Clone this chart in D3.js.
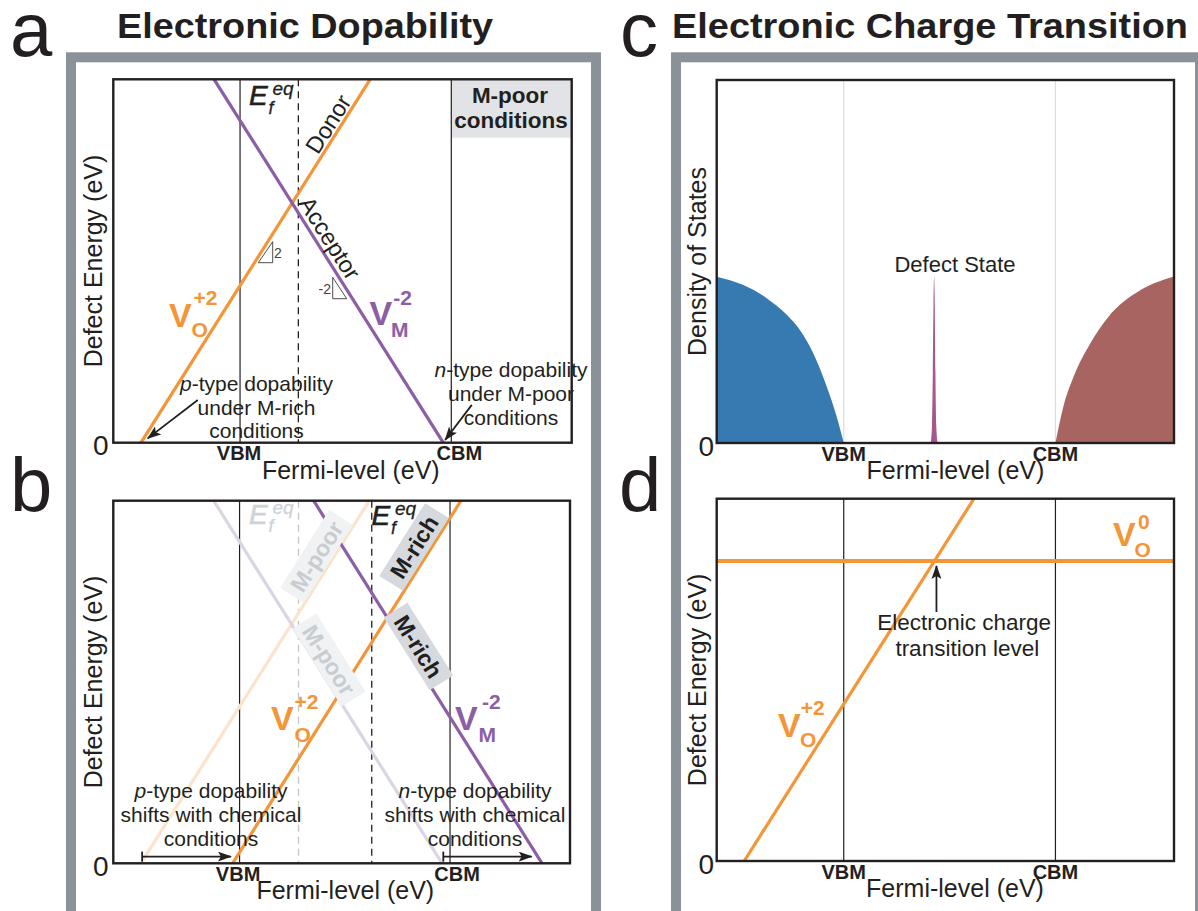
<!DOCTYPE html>
<html>
<head>
<meta charset="utf-8">
<script src="https://cdn.jsdelivr.net/npm/d3@7"></script>
<style>
  body { margin: 0; background: #fff; }
  svg { display: block; }
  text { font-family: "Liberation Sans", Arial, Helvetica, sans-serif; fill: #231f20; }
</style>
</head>
<body>
<svg id="fig" width="1198" height="911"></svg>
<script>
// ---------- data ----------
// Fermi-level axis: band edges (VBM = 0, CBM = 1 in units of the gap)
const bandEdgeLabels = ["VBM", "CBM"];
const bandEdgeValues = [0, 1];
const fermiDomainAB = [-0.6, 1.57];
const fermiDomainCD = [-0.6, 1.56];
const energyDomain = [0, 2.17];
const dosDomain = [0, 1];
const zeroTick = ["0"];

// (a) formation energy vs Fermi level, slopes +2 / -2
const donorA = [[-0.469, 0], [0.616, 2.17]];      // V_O^{+2}
const acceptorA = [[-0.123, 2.17], [0.962, 0]];   // V_M^{-2}
const efEqA = 0.276;

// (b) M-poor (faded) and M-rich (solid) conditions
const donorPoor = [[-0.469, 0], [0.616, 2.17]];
const acceptorPoor = [[-0.123, 2.17], [0.962, 0]];
const donorRich = [[-0.033, 0], [1.052, 2.17]];
const acceptorRich = [[0.352, 2.17], [1.437, 0]];
const efEqPoor = 0.28;
const efEqRich = 0.628;
const pShift = [[-0.463, 0.04], [-0.041, 0.04]];
const nShift = [[0.968, 0.04], [1.388, 0.04]];

// (c) density of states
const valenceDos = [[-0.6, 0.458], [-0.474, 0.435], [-0.364, 0.399], [-0.269, 0.353], [-0.207, 0.311],
                    [-0.144, 0.247], [-0.08, 0.155], [-0.033, 0.072], [0, 0]];
const conductionDos = [[1.0, 0], [1.038, 0.101], [1.086, 0.183], [1.165, 0.275], [1.245, 0.344],
                       [1.404, 0.422], [1.56, 0.459]];
const defectDos = [[0.411, 0], [0.417, 0.05], [0.421, 0.2], [0.424, 0.38], [0.427, 0.458],
                   [0.43, 0.38], [0.433, 0.2], [0.437, 0.05], [0.443, 0]];

// (d) charge transition
const voPlus2 = [[-0.47, 0], [0.615, 2.17]];
const voNeutral = [[-0.6, 1.797], [1.56, 1.797]];
const transitionLevel = [0.4285, 1.797];

// ---------- style ----------
const INK = "#231f20";
const ORANGE = "#f39639";
const PURPLE = "#8c5ea6";
const ORANGE_FADED = "#fbe3cc";
const PURPLE_FADED = "#dbd4e2";
const FRAME = "#8a9198";
const FONT_AX = 25;

const svg = d3.select("#fig");
const defs = svg.append("defs");
defs.append("marker").attr("id", "head")
  .attr("markerUnits", "userSpaceOnUse")
  .attr("viewBox", "0 0 14 10").attr("markerWidth", 14).attr("markerHeight", 10)
  .attr("refX", 13).attr("refY", 5).attr("orient", "auto")
  .append("path").attr("d", "M0,0 L14,5 L0,10 L3,5 Z").attr("fill", INK);

// outer grey frames
svg.append("rect").attr("x", 71).attr("y", 57.3).attr("width", 525).attr("height", 860)
  .attr("fill", "none").attr("stroke", FRAME).attr("stroke-width", 10);
svg.append("rect").attr("x", 676).attr("y", 57.3).attr("width", 524).attr("height", 860)
  .attr("fill", "none").attr("stroke", FRAME).attr("stroke-width", 10);

// helpers
function text(g, x, y, s, o = {}) {
  const t = g.append("text").attr("x", x).attr("y", y).text(s)
    .attr("font-size", o.size || 21)
    .attr("text-anchor", o.anchor || "start");
  if (o.weight) t.attr("font-weight", o.weight);
  if (o.style) t.attr("font-style", o.style);
  if (o.fill) t.style("fill", o.fill);
  if (o.len) t.attr("textLength", o.len).attr("lengthAdjust", "spacingAndGlyphs");
  return t;
}

function setupPanel(id, box, xd, yd) {
  const g = svg.append("g").attr("id", "panel-" + id);
  const x = d3.scaleLinear().domain(xd).range([box.x0, box.x1]);
  const y = d3.scaleLinear().domain(yd).range([box.y1, box.y0]);
  defs.append("clipPath").attr("id", "clip-" + id).append("rect")
    .attr("x", box.x0).attr("y", box.y0).attr("width", box.x1 - box.x0).attr("height", box.y1 - box.y0);
  const inner = g.append("g").attr("clip-path", `url(#clip-${id})`);
  return { g, inner, x, y, box };
}

function bandLines(P, color) {
  P.inner.selectAll(".edge").data(bandEdgeValues).join("line")
    .attr("x1", d => P.x(d)).attr("x2", d => P.x(d))
    .attr("y1", P.box.y0).attr("y2", P.box.y1)
    .attr("stroke", color).attr("stroke-width", 1.2);
}

function dashed(P, v, color) {
  P.inner.append("line").attr("x1", P.x(v)).attr("x2", P.x(v))
    .attr("y1", P.box.y0).attr("y2", P.box.y1)
    .attr("stroke", color).attr("stroke-width", 1.3).attr("stroke-dasharray", "7,5");
}

function curve(P, pts, color, w) {
  const line = d3.line().x(d => P.x(d[0])).y(d => P.y(d[1]));
  P.inner.append("path").attr("d", line(pts)).attr("fill", "none")
    .attr("stroke", color).attr("stroke-width", w || 3.2);
}

function angleOf(P, pts) {
  const dx = P.x(pts[1][0]) - P.x(pts[0][0]);
  const dy = P.y(pts[1][1]) - P.y(pts[0][1]);
  let a = Math.atan2(dy, dx) * 180 / Math.PI;
  if (a > 90) a -= 180;
  if (a < -90) a += 180;
  return a;
}

function frameBox(P) {
  P.g.append("rect").attr("x", P.box.x0).attr("y", P.box.y0)
    .attr("width", P.box.x1 - P.box.x0).attr("height", P.box.y1 - P.box.y0)
    .attr("fill", "none").attr("stroke", INK).attr("stroke-width", 2.4);
}

function axisText(P, opt) {
  // band-edge tick labels
  P.g.selectAll(".edgeLabel").data(bandEdgeLabels).join("text")
    .attr("x", (d, i) => P.x(bandEdgeValues[i]) + (i === 1 ? opt.cbmShift : 0) + (i === 0 ? opt.vbmShift : 0))
    .attr("y", P.box.y1 + 17.5)
    .attr("text-anchor", "middle").attr("font-weight", "bold").attr("font-size", 20)
    .text(d => d);
  text(P.g, opt.zeroX, P.box.y1 + 12.5, zeroTick[0], { size: 28, anchor: "end" });
  text(P.g, opt.xLabelX, P.box.y1 + 36, "Fermi-level (eV)", { size: FONT_AX, anchor: "middle" });
  P.g.append("text").attr("transform", `translate(${opt.yLabelX},${(P.box.y0 + P.box.y1) / 2}) rotate(-90)`)
    .attr("text-anchor", "middle").attr("font-size", FONT_AX).text(opt.yLabel);
}

function vLabel(g, v, sup, sub, color) {
  // v, sup, sub: [x, baseline(, text)]
  text(g, v[0], v[1], "V", { size: 34, weight: "bold", fill: color });
  text(g, sup[0], sup[1], sup[2], { size: 21, weight: "bold", fill: color });
  text(g, sub[0], sub[1], sub[2], { size: 21, weight: "bold", fill: color });
}

function efLabel(g, x, y, color) {
  const o = { style: "italic", fill: color };
  text(g, x, y, "E", Object.assign({ size: 28 }, o)).attr("stroke", color).attr("stroke-width", 0.6);
  text(g, x + 19.5, y + 8.5, "f", Object.assign({ size: 18 }, o)).attr("stroke", color).attr("stroke-width", 0.3);
  text(g, x + 23.5, y - 10, "eq", Object.assign({ size: 19 }, o)).attr("stroke", color).attr("stroke-width", 0.3);
}

function tag(g, cx, cy, angle, label, o) {
  const t = g.append("g").attr("transform", `translate(${cx},${cy}) rotate(${angle})`);
  if (o.box) t.append("rect").attr("x", -o.w / 2).attr("y", -o.h / 2).attr("width", o.w).attr("height", o.h).attr("fill", o.box);
  t.append("text").attr("text-anchor", "middle").attr("dy", "0.36em")
    .attr("font-size", o.size || 23).attr("font-weight", o.weight || "normal")
    .style("fill", o.color || INK).text(label);
}

function multiline(g, cx, y0, lines, o = {}) {
  lines.forEach((ln, i) => {
    const t = g.append("text").attr("x", cx).attr("y", y0 + i * (o.gap || 23.5))
      .attr("text-anchor", "middle").attr("font-size", o.size || 21);
    if (Array.isArray(ln)) {
      t.append("tspan").attr("font-style", "italic").text(ln[0]);
      t.append("tspan").text(ln[1]);
    } else t.text(ln);
  });
}

function arrow(P, pts, bar) {
  P.g.append("line")
    .attr("x1", P.x(pts[0][0])).attr("y1", P.y(pts[0][1]))
    .attr("x2", P.x(pts[1][0])).attr("y2", P.y(pts[1][1]))
    .attr("stroke", INK).attr("stroke-width", 1.8).attr("marker-end", "url(#head)");
  if (bar) {
    P.g.append("line").attr("x1", P.x(pts[0][0])).attr("x2", P.x(pts[0][0]))
      .attr("y1", P.y(pts[0][1]) - 5).attr("y2", P.y(pts[0][1]) + 5)
      .attr("stroke", INK).attr("stroke-width", 1.8);
  }
}

// ---------- titles and panel letters ----------
text(svg, 10, 56, "a", { size: 76 });
text(svg, 10, 511, "b", { size: 76 });
text(svg, 620, 56, "c", { size: 76 });
text(svg, 619, 511, "d", { size: 76 });
text(svg, 117, 37.5, "Electronic Dopability", { size: 35, weight: "bold", len: 376 });
text(svg, 672, 37.5, "Electronic Charge Transition", { size: 35, weight: "bold", len: 516 });

// ---------- (a) ----------
{
  const P = setupPanel("a", { x0: 113.3, x1: 571.7, y0: 79.3, y1: 442.7 }, fermiDomainAB, energyDomain);
  P.inner.append("rect").attr("x", P.x(bandEdgeValues[1])).attr("y", P.box.y0)
    .attr("width", P.box.x1 - P.x(bandEdgeValues[1])).attr("height", 58.4).attr("fill", "#e1e3e7");
  bandLines(P, INK);
  dashed(P, efEqA, INK);
  curve(P, donorA, ORANGE);
  curve(P, acceptorA, PURPLE);
  frameBox(P);
  axisText(P, { cbmShift: 8, vbmShift: -1, zeroX: 108.5, xLabelX: 350.8, yLabelX: 101.5, yLabel: "Defect Energy (eV)" });

  text(P.g, 510, 103.3, "M-poor", { size: 22.5, weight: "bold", anchor: "middle" });
  text(P.g, 511, 128.3, "conditions", { size: 22.5, weight: "bold", anchor: "middle" });
  efLabel(P.g, 249, 105, INK);

  const aO = angleOf(P, donorA), aM = angleOf(P, acceptorA);
  tag(P.g, 328, 124, aO, "Donor", { size: 23.5 });
  tag(P.g, 330, 238, aM, "Acceptor", { size: 23.5 });

  // slope triangles
  P.g.append("path").attr("d", "M258.3,262.7 L272.7,241.7 L272.7,262.7 Z")
    .attr("fill", "none").attr("stroke", INK).attr("stroke-width", 0.8);
  text(P.g, 274, 258, "2", { size: 14, fill: "#444" });
  P.g.append("path").attr("d", "M332.7,277.3 L346.7,298.7 L332.7,298.7 Z")
    .attr("fill", "none").attr("stroke", INK).attr("stroke-width", 0.8);
  text(P.g, 331, 293.5, "-2", { size: 14, fill: "#444", anchor: "end" });

  vLabel(P.g, [169, 326.5], [193.6, 304.7, "+2"], [191.5, 336.5, "O"], ORANGE);
  vLabel(P.g, [369.5, 325], [393.3, 305, "-2"], [391, 336.7, "M"], PURPLE);

  multiline(P.g, 256.5, 391, [["p", "-type dopability"], "under M-rich", "conditions"]);
  multiline(P.g, 511, 376.6, [["n", "-type dopability"], "under M-poor", "conditions"], { gap: 24.2 });
  arrow(P, [[-0.2, 0.255], [-0.437, 0.026]]);
  arrow(P, [[1.097, 0.226], [0.971, 0.016]]);
}

// ---------- (b) ----------
{
  const P = setupPanel("b", { x0: 113.3, x1: 570, y0: 500.7, y1: 863.3 }, fermiDomainAB, energyDomain);
  bandLines(P, INK);
  dashed(P, efEqPoor, "#c4c4c4");
  dashed(P, efEqRich, INK);
  curve(P, donorPoor, ORANGE_FADED);
  curve(P, acceptorPoor, PURPLE_FADED);
  curve(P, donorRich, ORANGE);
  curve(P, acceptorRich, PURPLE);
  frameBox(P);
  axisText(P, { cbmShift: 7, vbmShift: -1.5, zeroX: 108.5, xLabelX: 345.3, yLabelX: 101.5, yLabel: "Defect Energy (eV)" });

  efLabel(P.g, 249, 523.5, "#cfd3d8");
  efLabel(P.g, 371.5, 525, INK);

  const aO = angleOf(P, donorRich), aM = angleOf(P, acceptorRich);
  tag(P.g, 316.5, 556.5, aO, "M-poor", { box: "#f0f2f4", w: 92, h: 28, weight: "bold", color: "#c8cdd2" });
  tag(P.g, 329, 660, aM, "M-poor", { box: "#f0f2f4", w: 92, h: 28, weight: "bold", color: "#c8cdd2" });
  tag(P.g, 414, 547, aO, "M-rich", { box: "#d6dadf", w: 86, h: 28, weight: "bold" });
  tag(P.g, 418.5, 646.5, aM, "M-rich", { box: "#d6dadf", w: 86, h: 28, weight: "bold" });

  vLabel(P.g, [271, 730], [294.5, 709.3, "+2"], [294.5, 741.7, "O"], ORANGE);
  vLabel(P.g, [455, 730], [482, 709.3, "-2"], [478.5, 741.7, "M"], PURPLE);

  multiline(P.g, 211, 798.3, [["p", "-type dopability"], "shifts with chemical", "conditions"], { gap: 23.8 });
  multiline(P.g, 475, 798.3, [["n", "-type dopability"], "shifts with chemical", "conditions"], { gap: 23.8 });
  arrow(P, pShift, true);
  arrow(P, nShift, true);
}

// ---------- (c) ----------
{
  const P = setupPanel("c", { x0: 716.7, x1: 1174, y0: 80, y1: 443 }, fermiDomainCD, dosDomain);
  bandLines(P, "#dcdcdc");
  const area = d3.area().x(d => P.x(d[0])).y0(P.y(0)).y1(d => P.y(d[1])).curve(d3.curveMonotoneX);
  P.inner.append("path").attr("d", area(valenceDos)).attr("fill", "#367ab1");
  P.inner.append("path").attr("d", area(conductionDos)).attr("fill", "#a76461");
  P.inner.append("path").attr("d", area(defectDos)).attr("fill", "#a6588c");
  frameBox(P);
  axisText(P, { cbmShift: 0, vbmShift: 0, zeroX: 714, xLabelX: 955.4, yLabelX: 706, yLabel: "Density of States" });
  text(P.g, 955, 271.7, "Defect State", { size: 22, anchor: "middle" });
}

// ---------- (d) ----------
{
  const P = setupPanel("d", { x0: 716.7, x1: 1174, y0: 498.7, y1: 861 }, fermiDomainCD, energyDomain);
  bandLines(P, INK);
  curve(P, voNeutral, ORANGE, 4);
  curve(P, voPlus2, ORANGE);
  frameBox(P);
  axisText(P, { cbmShift: 0, vbmShift: 0, zeroX: 714, xLabelX: 955, yLabelX: 706, yLabel: "Defect Energy (eV)" });

  const tx = P.x(transitionLevel[0]) + 2, ty = P.y(transitionLevel[1]);
  P.g.append("line").attr("x1", tx).attr("x2", tx).attr("y1", ty + 51).attr("y2", ty + 5)
    .attr("stroke", INK).attr("stroke-width", 1.8).attr("marker-end", "url(#head)");
  text(P.g, 964.2, 630.4, "Electronic charge", { size: 22.5, anchor: "middle" });
  text(P.g, 967.3, 656.4, "transition level", { size: 22.5, anchor: "middle" });

  vLabel(P.g, [778, 737], [800.8, 715.4, "+2"], [800, 747, "O"], ORANGE);
  vLabel(P.g, [1113, 546.4], [1138, 528.7, "0"], [1134.5, 557, "O"], ORANGE);
}
</script>
</body>
</html>
